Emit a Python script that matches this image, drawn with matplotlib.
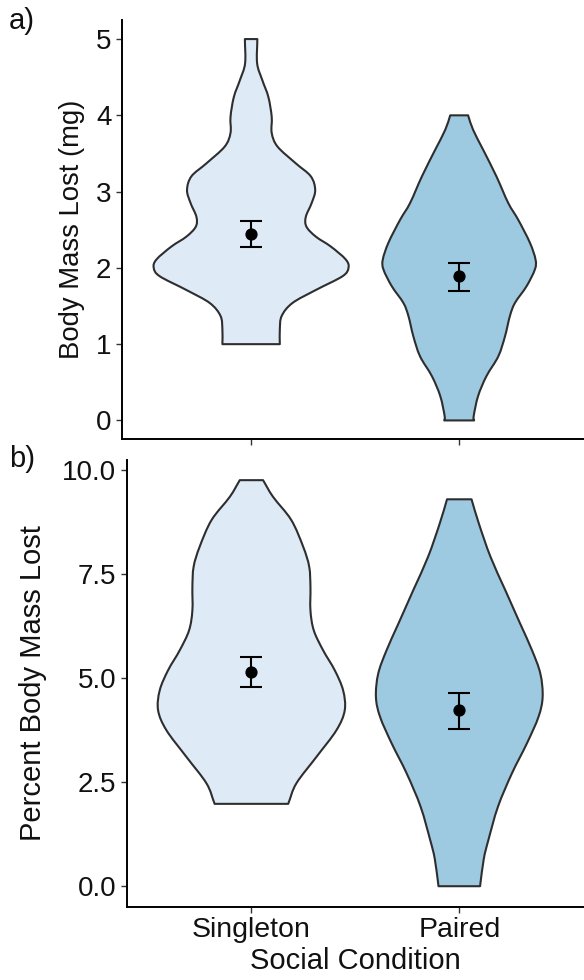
import matplotlib
matplotlib.use("Agg")
import matplotlib.pyplot as plt
from matplotlib.path import Path
from matplotlib.patches import PathPatch
import numpy as np

plt.rcParams['font.family'] = ['Liberation Sans', 'DejaVu Sans']

# ---------------- data ----------------
categories = ["Singleton", "Paired"]
panel_labels = ["a)", "b)"]
ylabels = ["Body Mass Lost (mg)", "Percent Body Mass Lost"]
xlabel = "Social Condition"

# violin profiles (value levels, half-width in category units)
a_single_y = [1.00, 1.19, 1.37, 1.54, 1.71, 1.89, 2.00, 2.11, 2.28, 2.41, 2.54, 2.67,
              2.85, 3.02, 3.20, 3.37, 3.59, 3.77, 3.98, 4.24, 4.46, 4.68, 5.00]
a_single_w = [0.138, 0.138, 0.147, 0.199, 0.311, 0.439, 0.468, 0.455, 0.383, 0.311, 0.266, 0.263,
              0.291, 0.308, 0.287, 0.215, 0.127, 0.099, 0.099, 0.083, 0.054, 0.029, 0.030]
a_paired_y = [0.00, 0.06, 0.32, 0.58, 0.84, 1.10, 1.37, 1.54, 1.76, 1.98, 2.11, 2.33,
              2.63, 2.85, 3.20, 3.55, 3.81, 4.00]
a_paired_w = [0.072, 0.070, 0.091, 0.131, 0.188, 0.220, 0.244, 0.268, 0.324, 0.364, 0.367, 0.340,
              0.284, 0.236, 0.179, 0.115, 0.067, 0.043]
b_single_y = [1.98, 2.47, 3.11, 3.75, 4.23, 4.71, 5.19, 5.67, 6.15, 6.63, 7.19, 7.68,
              8.16, 8.80, 9.36, 9.76]
b_single_w = [0.177, 0.216, 0.313, 0.409, 0.449, 0.441, 0.401, 0.345, 0.300, 0.284, 0.284, 0.278,
              0.249, 0.192, 0.104, 0.056]
b_paired_y = [0.00, 0.66, 1.11, 1.91, 2.71, 3.43, 4.07, 4.55, 5.11, 5.67, 6.31, 7.12,
              7.92, 8.72, 9.30]
b_paired_w = [0.100, 0.118, 0.140, 0.186, 0.253, 0.325, 0.381, 0.401, 0.390, 0.350, 0.293, 0.221,
              0.150, 0.094, 0.059]

# means with error bar limits
a_mean = [2.45, 1.89]
a_low = [2.28, 1.70]
a_high = [2.62, 2.07]
b_mean = [5.15, 4.23]
b_low = [4.79, 3.78]
b_high = [5.51, 4.65]

a_yticks = [0, 1, 2, 3, 4, 5]
a_yticklabels = ["0", "1", "2", "3", "4", "5"]
b_yticks = [0.0, 2.5, 5.0, 7.5, 10.0]
b_yticklabels = ["0.0", "2.5", "5.0", "7.5", "10.0"]

# ---------------- style ----------------
fills = ["#deebf7", "#9ecae1"]
edge = "#2e2e2e"
txt = "#111111"
W, H = 584, 980
fig = plt.figure(figsize=(W / 100, H / 100), dpi=100)


def px_axes(left, top, right, bottom):
    return fig.add_axes([left / W, 1 - bottom / H, (right - left) / W, (bottom - top) / H])


def smooth_side(xs, ys):
    """Bezier (Catmull-Rom) segments through the read outline points."""
    P = np.column_stack([xs, ys])
    n = len(P)
    T = np.zeros_like(P)
    T[1:-1] = (P[2:] - P[:-2]) / 2
    T[0] = P[1] - P[0]
    T[-1] = P[-1] - P[-2]
    verts, codes = [], []
    for i in range(n - 1):
        verts += [P[i] + T[i] / 3, P[i + 1] - T[i + 1] / 3, P[i + 1]]
        codes += [Path.CURVE4] * 3
    return verts, codes


def violin(ax, pos, yy, ww, fc):
    yy = np.asarray(yy, float)
    ww = np.asarray(ww, float)
    lv, lc = smooth_side(pos - ww, yy)
    rv, rc = smooth_side((pos + ww)[::-1], yy[::-1])
    verts = [(pos - ww[0], yy[0])] + lv + [(pos + ww[-1], yy[-1])] + rv + [(pos - ww[0], yy[0])]
    codes = [Path.MOVETO] + lc + [Path.LINETO] + rc + [Path.CLOSEPOLY]
    ax.add_patch(PathPatch(Path(verts, codes), facecolor=fc, edgecolor=edge,
                           linewidth=1.5, joinstyle='round', zorder=2))


ax_a = px_axes(121.7, 20, 584, 439.5)
ax_b = px_axes(126.7, 460.3, 584, 906.5)

panels = [
    (ax_a, [(a_single_y, a_single_w), (a_paired_y, a_paired_w)], a_mean, a_low, a_high,
     a_yticks, a_yticklabels, (-0.25, 5.25), (0.378, 2.6)),
    (ax_b, [(b_single_y, b_single_w), (b_paired_y, b_paired_w)], b_mean, b_low, b_high,
     b_yticks, b_yticklabels, (-0.4875, 10.2375), (0.40, 2.6)),
]

positions = np.arange(1, len(categories) + 1)
for i, (ax, prof, mean, low, high, yt, ytl, ylim, xlim) in enumerate(panels):
    for pos, (yy, ww), fc in zip(positions, prof, fills):
        violin(ax, pos, yy, ww, fc)
    mean = np.asarray(mean)
    err = [mean - np.asarray(low), np.asarray(high) - mean]
    ax.errorbar(positions, mean, yerr=err, fmt='o', color='black', ms=7.8,
                elinewidth=1.5, capsize=7.6, capthick=1.5, zorder=3)
    ax.set_xlim(*xlim)
    ax.set_ylim(*ylim)
    ax.set_yticks(yt)
    ax.set_yticklabels(ytl)
    ax.set_xticks(positions)
    for s in ['top', 'right']:
        ax.spines[s].set_visible(False)
    for s in ['left', 'bottom']:
        ax.spines[s].set_linewidth(1.4)
        ax.spines[s].set_color('black')
    ax.tick_params(axis='both', length=4.2, width=1.0, color='#333333',
                   labelsize=20, labelcolor=txt, pad=3.2)
    ax.set_facecolor('white')

ax_a.set_xticklabels([])
ax_b.set_xticklabels(categories)
ax_b.tick_params(axis='x', pad=3.5, labelsize=20.5)

# axis titles
ax_a.set_ylabel(ylabels[0], fontsize=19.8, color=txt)
ax_a.yaxis.label.set_verticalalignment('center')
ax_a.yaxis.set_label_coords((72 - 121.7) / (584 - 121.7), 0.5)
ax_b.set_ylabel(ylabels[1], fontsize=21, color=txt)
ax_b.yaxis.label.set_verticalalignment('center')
ax_b.yaxis.set_label_coords((33 - 126.7) / (584 - 126.7), 0.5)
ax_b.set_xlabel(xlabel, fontsize=21, color=txt)
ax_b.xaxis.label.set_verticalalignment('center')
ax_b.xaxis.set_label_coords(0.5, -(961 - 906.5) / (906.5 - 460.3))

fig.text(9 / W, 1 - 7 / H, panel_labels[0], fontsize=21, ha='left', va='top', color=txt)
fig.text(9 / W, 1 - 445 / H, panel_labels[1], fontsize=21, ha='left', va='top', color=txt)

fig.savefig("out.png", dpi=100, facecolor='white')
